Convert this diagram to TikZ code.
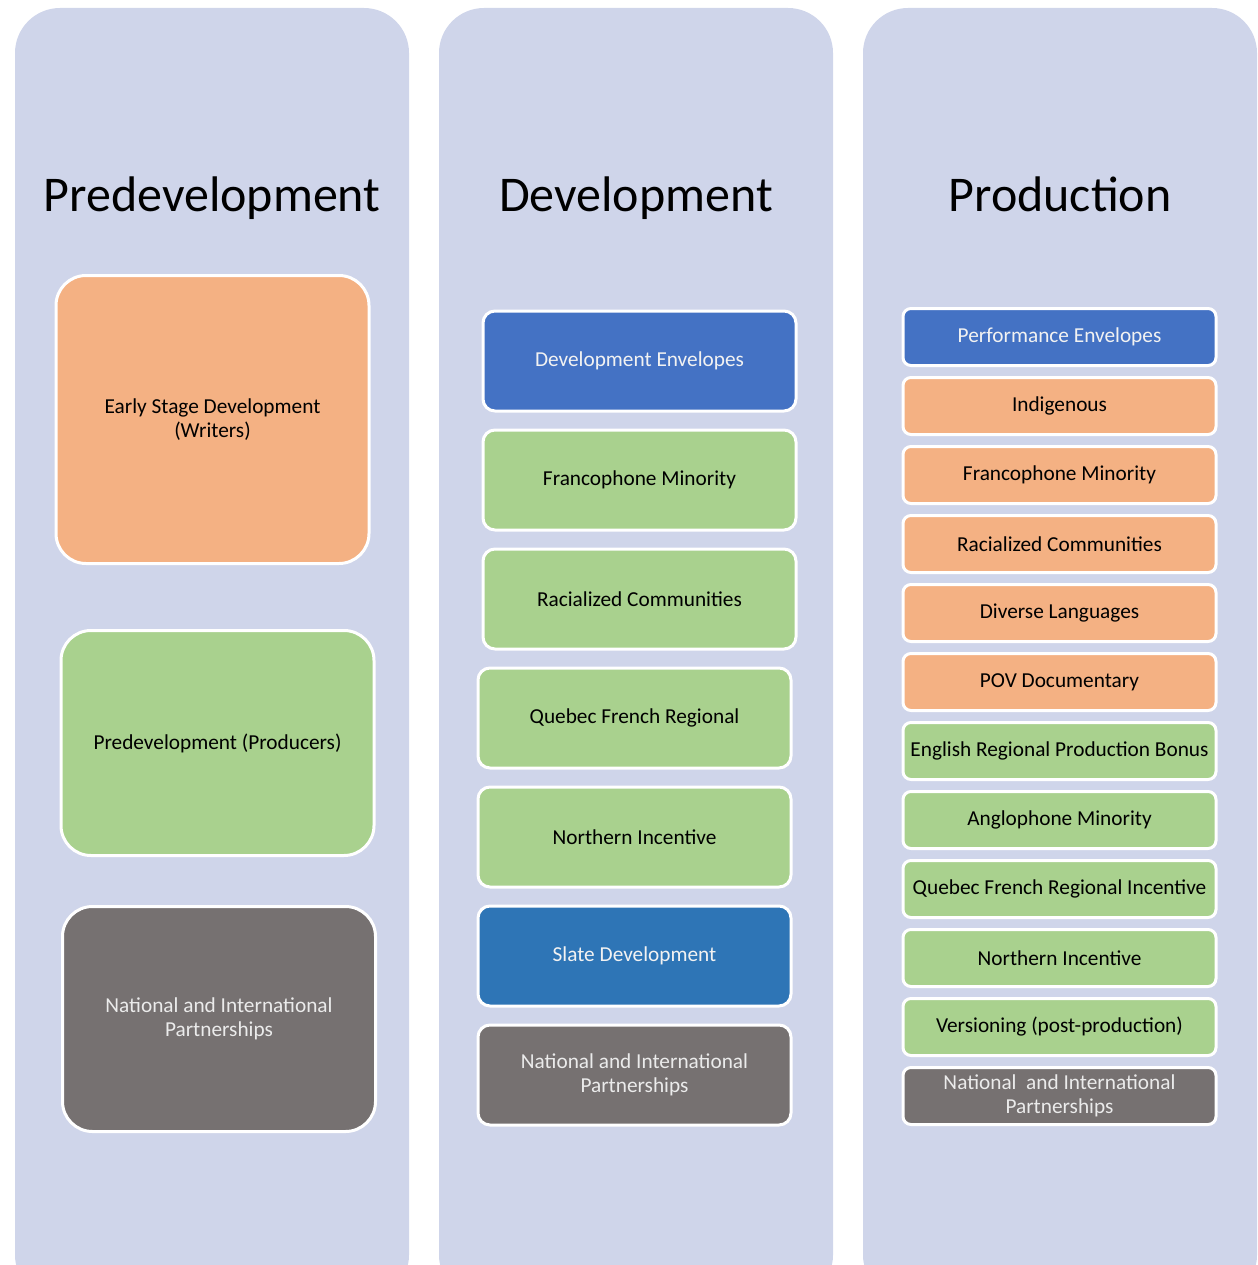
\documentclass[tikz,border=0pt]{standalone}
\usepackage{fontspec}
\setmainfont{Carlito}
\usetikzlibrary{positioning}

\definecolor{stagebg}{HTML}{CFD5EA}
\definecolor{orangefill}{HTML}{F4B183}
\definecolor{greenfill}{HTML}{A9D18E}
\definecolor{greyfill}{HTML}{767171}
\definecolor{bluefill}{HTML}{4472C4}
\definecolor{slatefill}{HTML}{2E75B6}

\tikzset{
    stage/.style={fill=stagebg, rounded corners=45pt},
    title/.style={anchor=base, font=\fontsize{50}{60}\selectfont},
    item/.style={draw=white, line width=3pt, align=center, inner sep=2pt,
        font=\fontsize{21.3}{24}\selectfont},
    orangeitem/.style={item, fill=orangefill, text=black},
    greenitem/.style={item, fill=greenfill, text=black},
    greyitem/.style={item, fill=greyfill, text=white!92!black},
    blueitem/.style={item, fill=bluefill, text=white!95!black},
    slateitem/.style={item, fill=slatefill, text=white!95!black},
    pre/.style={rounded corners=30pt, minimum width=313pt},
    dev/.style={rounded corners=12pt, minimum width=313pt, minimum height=100pt},
    prod/.style={rounded corners=8pt, minimum width=313pt, minimum height=57pt}
}

\begin{document}
\begin{tikzpicture}[x=1pt, y=-1pt]
    \useasboundingbox (0,0) rectangle (1257,1265);
    \clip (0,0) rectangle (1257,1265);

    % stage columns
    \fill[stage] (15,8) rectangle (409,1300);
    \fill[stage] (439,8) rectangle (833,1300);
    \fill[stage] (863,8) rectangle (1257,1300);

    \node[title] (pretitle) at (212,212) {Predevelopment};
    \node[title] (devtitle) at (636,212) {Development};
    \node[title] (prodtitle) at (1060,212) {Production};

    % predevelopment
    \node[pre, orangeitem, minimum height=288pt] (pre1) at (212.5,419.5)
        {Early Stage Development\\(Writers)};
    \node[pre, greenitem, minimum height=225pt] (pre2) at (217.5,743)
        {Predevelopment (Producers)};
    \node[pre, greyitem, minimum height=225pt] (pre3) at (219,1019)
        {National and International\\Partnerships};

    % development
    \node[dev, blueitem] (dev1) at (639.5,361) {Development Envelopes};
    \node[dev, greenitem, below=16pt of dev1] (dev2) {Francophone Minority};
    \node[dev, greenitem, below=16pt of dev2] (dev3) {Racialized Communities};
    \node[dev, greenitem, below=16pt of dev3, xshift=-5pt] (dev4) {Quebec French Regional};
    \node[dev, greenitem, below=16pt of dev4] (dev5) {Northern Incentive};
    \node[dev, slateitem, below=16pt of dev5] (dev6) {Slate Development};
    \node[dev, greyitem, below=16pt of dev6] (dev7) {National and International\\Partnerships};

    % production
    \foreach \lbl/\sty [count=\i] in {
        Performance Envelopes/blueitem,
        Indigenous/orangeitem,
        Francophone Minority/orangeitem,
        Racialized Communities/orangeitem,
        Diverse Languages/orangeitem,
        POV Documentary/orangeitem,
        English Regional Production Bonus/greenitem,
        Anglophone Minority/greenitem,
        Quebec French Regional Incentive/greenitem,
        Northern Incentive/greenitem,
        Versioning (post-production)/greenitem,
        {National\ \ and International\\Partnerships}/greyitem}
        \node[prod, \sty] (prod\i) at (1059.5,{337+69*(\i-1)}) {\lbl};
\end{tikzpicture}
\end{document}
